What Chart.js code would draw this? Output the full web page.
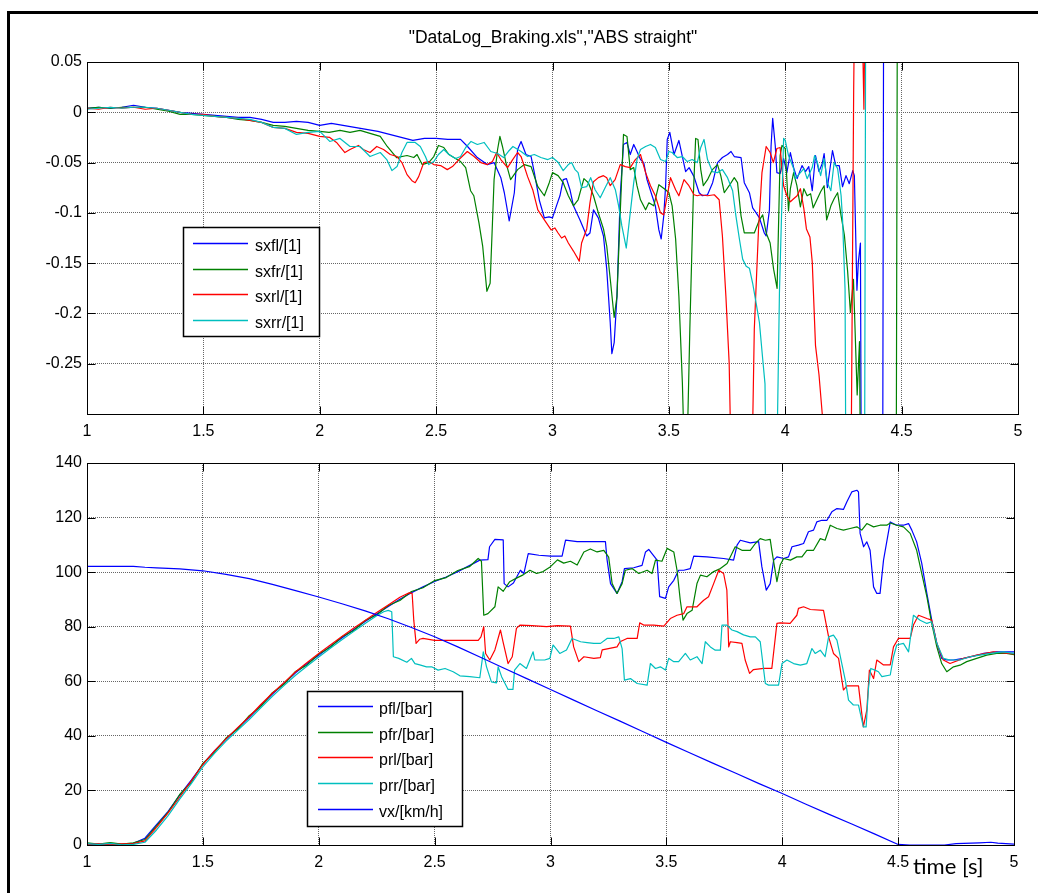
<!DOCTYPE html>
<html><head><meta charset="utf-8">
<script src="https://cdn.jsdelivr.net/npm/chart.js@4"></script>
<style>
html,body{margin:0;padding:0;background:#fff;}
body{width:1038px;height:893px;position:relative;overflow:hidden;}
#frame{position:absolute;left:7px;top:11px;width:1100px;height:1000px;border-left:3px solid #000;border-top:3px solid #000;}
#title{position:absolute;top:27px;left:553px;transform:translateX(-50%);white-space:nowrap;font:17.5px "Liberation Sans",Arial,sans-serif;color:#000;line-height:20px;}
#xlabel{position:absolute;left:913px;top:855px;white-space:nowrap;font:22px Lato,"Open Sans",sans-serif;line-height:22px;color:#000;}
canvas{position:absolute;left:0;}
#c1{top:0;}
#c2{top:440px;}
</style></head>
<body>
<div id="frame"></div>
<canvas id="c1" width="1038" height="440" style="width:1038px;height:440px"></canvas>
<canvas id="c2" width="1038" height="453" style="width:1038px;height:453px"></canvas>
<div id="title">"DataLog_Braking.xls","ABS straight"</div>
<div id="xlabel">time [s]</div>
<script>
// ---------- DATA ----------
const xTicks = [1, 1.5, 2, 2.5, 3, 3.5, 4, 4.5, 5];
const slipTicks = [0.05, 0, -0.05, -0.1, -0.15, -0.2, -0.25];
const pressTicks = [0, 20, 40, 60, 80, 100, 120, 140];
const slipLabels = ["sxfl/[1]", "sxfr/[1]", "sxrl/[1]", "sxrr/[1]"];
const pressLabels = ["pfl/[bar]", "pfr/[bar]", "prl/[bar]", "prr/[bar]", "vx/[km/h]"];

// [time s, slip]
const sxfl = [[1.0,0.004],[1.05,0.005],[1.1,0.004],[1.15,0.005],[1.2,0.007],[1.25,0.005],[1.3,0.004],[1.35,0.002],[1.4,0.0],[1.45,-0.001],[1.5,-0.002],[1.55,-0.003],[1.6,-0.004],[1.65,-0.005],[1.7,-0.005],[1.75,-0.007],[1.8,-0.01],[1.85,-0.01],[1.9,-0.009],[1.95,-0.01],[2.0,-0.013],[2.05,-0.011],[2.1,-0.013],[2.15,-0.015],[2.2,-0.017],[2.25,-0.019],[2.3,-0.022],[2.35,-0.025],[2.4,-0.028],[2.45,-0.026],[2.5,-0.026],[2.55,-0.027],[2.605,-0.027],[2.635,-0.034],[2.677,-0.045],[2.72,-0.052],[2.749,-0.05],[2.778,-0.065],[2.793,-0.08],[2.814,-0.108],[2.836,-0.08],[2.85,-0.037],[2.865,-0.029],[2.886,-0.042],[2.908,-0.044],[2.922,-0.06],[2.944,-0.088],[2.965,-0.105],[2.985,-0.104],[3.0,-0.105],[3.017,-0.093],[3.032,-0.083],[3.046,-0.067],[3.06,-0.066],[3.075,-0.077],[3.09,-0.093],[3.118,-0.107],[3.147,-0.123],[3.161,-0.12],[3.176,-0.097],[3.197,-0.105],[3.219,-0.123],[3.233,-0.156],[3.248,-0.209],[3.255,-0.24],[3.265,-0.229],[3.277,-0.183],[3.291,-0.083],[3.305,-0.032],[3.32,-0.03],[3.334,-0.042],[3.349,-0.032],[3.363,-0.039],[3.378,-0.047],[3.392,-0.05],[3.406,-0.067],[3.428,-0.083],[3.442,-0.093],[3.457,-0.117],[3.467,-0.126],[3.478,-0.103],[3.486,-0.073],[3.493,-0.027],[3.504,-0.02],[3.522,-0.042],[3.543,-0.028],[3.558,-0.044],[3.572,-0.059],[3.587,-0.055],[3.608,-0.064],[3.63,-0.08],[3.644,-0.083],[3.666,-0.082],[3.688,-0.07],[3.709,-0.05],[3.73,-0.045],[3.752,-0.042],[3.767,-0.039],[3.781,-0.044],[3.81,-0.045],[3.824,-0.07],[3.846,-0.08],[3.86,-0.095],[3.875,-0.1],[3.889,-0.105],[3.91,-0.12],[3.918,-0.123],[3.932,-0.097],[3.939,-0.034],[3.946,-0.006],[3.957,-0.033],[3.964,-0.06],[3.978,-0.061],[3.993,-0.046],[4.007,-0.06],[4.022,-0.04],[4.036,-0.055],[4.051,-0.066],[4.072,-0.053],[4.087,-0.059],[4.101,-0.054],[4.116,-0.078],[4.13,-0.043],[4.145,-0.059],[4.159,-0.051],[4.167,-0.041],[4.181,-0.075],[4.203,-0.038],[4.217,-0.053],[4.232,-0.053],[4.246,-0.074],[4.261,-0.063],[4.275,-0.071],[4.29,-0.058],[4.297,-0.063],[4.308,-0.177],[4.314,-0.149],[4.323,-0.13],[4.328,-0.45],[4.418,-0.45],[4.423,0.15],[5.0,0.15]];
const sxfr = [[1.0,0.004],[1.05,0.005],[1.1,0.004],[1.15,0.005],[1.2,0.005],[1.25,0.005],[1.3,0.003],[1.35,0.001],[1.4,-0.002],[1.45,-0.002],[1.5,-0.003],[1.55,-0.004],[1.6,-0.005],[1.65,-0.007],[1.7,-0.008],[1.75,-0.01],[1.8,-0.013],[1.85,-0.014],[1.9,-0.016],[1.95,-0.018],[2.0,-0.019],[2.04,-0.02],[2.087,-0.018],[2.13,-0.02],[2.173,-0.018],[2.216,-0.021],[2.26,-0.024],[2.29,-0.034],[2.33,-0.045],[2.375,-0.043],[2.404,-0.045],[2.418,-0.042],[2.44,-0.052],[2.468,-0.05],[2.49,-0.044],[2.51,-0.033],[2.533,-0.035],[2.555,-0.042],[2.576,-0.045],[2.605,-0.049],[2.627,-0.055],[2.648,-0.078],[2.662,-0.083],[2.684,-0.11],[2.7,-0.133],[2.718,-0.178],[2.732,-0.17],[2.742,-0.11],[2.749,-0.067],[2.764,-0.037],[2.774,-0.024],[2.785,-0.034],[2.8,-0.05],[2.82,-0.067],[2.85,-0.057],[2.879,-0.052],[2.908,-0.054],[2.937,-0.074],[2.965,-0.083],[2.986,-0.07],[3.0,-0.06],[3.024,-0.063],[3.046,-0.07],[3.068,-0.083],[3.09,-0.093],[3.11,-0.087],[3.135,-0.066],[3.154,-0.07],[3.176,-0.083],[3.197,-0.1],[3.219,-0.116],[3.233,-0.133],[3.25,-0.17],[3.265,-0.204],[3.277,-0.183],[3.291,-0.1],[3.305,-0.022],[3.32,-0.024],[3.334,-0.057],[3.349,-0.055],[3.363,-0.073],[3.378,-0.087],[3.4,-0.097],[3.414,-0.09],[3.435,-0.093],[3.457,-0.072],[3.486,-0.077],[3.5,-0.08],[3.514,-0.093],[3.529,-0.126],[3.543,-0.183],[3.558,-0.269],[3.565,-0.33],[3.579,-0.33],[3.59,-0.216],[3.605,-0.083],[3.615,-0.026],[3.625,-0.027],[3.637,-0.057],[3.648,-0.073],[3.666,-0.067],[3.687,-0.057],[3.709,-0.052],[3.723,-0.063],[3.738,-0.08],[3.759,-0.073],[3.781,-0.065],[3.795,-0.07],[3.81,-0.103],[3.824,-0.12],[3.867,-0.12],[3.889,-0.107],[3.903,-0.102],[3.918,-0.12],[3.935,-0.13],[3.95,-0.156],[3.965,-0.175],[3.978,-0.043],[3.986,-0.033],[4.0,-0.036],[4.014,-0.098],[4.022,-0.076],[4.036,-0.06],[4.05,-0.073],[4.065,-0.094],[4.08,-0.076],[4.094,-0.083],[4.109,-0.081],[4.12,-0.095],[4.138,-0.086],[4.152,-0.079],[4.167,-0.073],[4.178,-0.107],[4.196,-0.093],[4.21,-0.086],[4.225,-0.08],[4.24,-0.103],[4.254,-0.122],[4.268,-0.158],[4.28,-0.199],[4.293,-0.166],[4.309,-0.281],[4.319,-0.228],[4.326,-0.45],[4.476,-0.45],[4.482,0.15],[5.0,0.15]];
const sxrl = [[1.0,0.004],[1.05,0.003],[1.1,0.005],[1.15,0.004],[1.2,0.005],[1.25,0.003],[1.3,0.004],[1.35,0.002],[1.4,0.0],[1.45,-0.002],[1.5,-0.002],[1.55,-0.004],[1.6,-0.005],[1.65,-0.006],[1.7,-0.008],[1.75,-0.01],[1.8,-0.015],[1.85,-0.016],[1.9,-0.02],[1.95,-0.021],[2.0,-0.024],[2.043,-0.025],[2.072,-0.03],[2.108,-0.04],[2.13,-0.037],[2.166,-0.033],[2.187,-0.037],[2.216,-0.04],[2.245,-0.034],[2.274,-0.037],[2.303,-0.042],[2.332,-0.044],[2.353,-0.05],[2.375,-0.062],[2.396,-0.068],[2.41,-0.07],[2.425,-0.064],[2.447,-0.05],[2.468,-0.049],[2.49,-0.052],[2.519,-0.053],[2.548,-0.057],[2.57,-0.054],[2.598,-0.047],[2.634,-0.039],[2.663,-0.044],[2.692,-0.05],[2.72,-0.052],[2.742,-0.049],[2.76,-0.04],[2.778,-0.047],[2.807,-0.055],[2.829,-0.047],[2.85,-0.04],[2.865,-0.044],[2.893,-0.064],[2.915,-0.077],[2.937,-0.097],[2.965,-0.107],[2.994,-0.117],[3.01,-0.115],[3.024,-0.12],[3.039,-0.125],[3.053,-0.123],[3.068,-0.13],[3.09,-0.138],[3.115,-0.148],[3.125,-0.13],[3.147,-0.116],[3.161,-0.09],[3.176,-0.069],[3.197,-0.065],[3.219,-0.063],[3.233,-0.065],[3.248,-0.073],[3.269,-0.067],[3.291,-0.052],[3.313,-0.054],[3.334,-0.055],[3.356,-0.047],[3.378,-0.042],[3.4,-0.06],[3.421,-0.073],[3.442,-0.083],[3.464,-0.1],[3.478,-0.102],[3.493,-0.083],[3.507,-0.065],[3.529,-0.077],[3.543,-0.083],[3.565,-0.067],[3.586,-0.073],[3.608,-0.082],[3.622,-0.083],[3.637,-0.082],[3.666,-0.083],[3.695,-0.082],[3.716,-0.087],[3.73,-0.123],[3.745,-0.183],[3.759,-0.249],[3.776,-0.45],[3.85,-0.45],[3.867,-0.216],[3.885,-0.117],[3.9,-0.06],[3.918,-0.034],[3.935,-0.04],[3.949,-0.05],[3.964,-0.036],[3.978,-0.035],[3.993,-0.073],[4.007,-0.083],[4.022,-0.089],[4.036,-0.086],[4.051,-0.083],[4.065,-0.076],[4.08,-0.096],[4.091,-0.116],[4.106,-0.124],[4.116,-0.149],[4.13,-0.232],[4.145,-0.261],[4.159,-0.3],[4.165,-0.45],[4.28,-0.45],[4.294,0.023],[4.3,0.15],[4.326,0.15],[4.338,0.003],[4.345,0.15],[5.0,0.15]];
const sxrr = [[1.0,0.003],[1.05,0.004],[1.1,0.005],[1.15,0.004],[1.2,0.005],[1.25,0.005],[1.3,0.004],[1.35,0.002],[1.4,0.0],[1.45,-0.002],[1.5,-0.003],[1.55,-0.004],[1.6,-0.005],[1.65,-0.006],[1.7,-0.007],[1.75,-0.01],[1.8,-0.015],[1.85,-0.016],[1.9,-0.022],[1.95,-0.02],[2.0,-0.019],[2.043,-0.029],[2.087,-0.026],[2.13,-0.034],[2.173,-0.034],[2.216,-0.044],[2.26,-0.04],[2.288,-0.047],[2.31,-0.058],[2.332,-0.054],[2.353,-0.04],[2.375,-0.03],[2.41,-0.03],[2.432,-0.034],[2.454,-0.044],[2.468,-0.052],[2.49,-0.049],[2.51,-0.042],[2.533,-0.037],[2.555,-0.042],[2.584,-0.046],[2.605,-0.044],[2.627,-0.035],[2.65,-0.029],[2.677,-0.032],[2.706,-0.03],[2.735,-0.039],[2.764,-0.041],[2.79,-0.045],[2.81,-0.039],[2.83,-0.034],[2.865,-0.039],[2.893,-0.044],[2.922,-0.042],[2.95,-0.045],[2.98,-0.047],[3.0,-0.045],[3.025,-0.05],[3.046,-0.058],[3.068,-0.052],[3.082,-0.05],[3.097,-0.057],[3.11,-0.06],[3.125,-0.075],[3.147,-0.074],[3.164,-0.065],[3.183,-0.077],[3.205,-0.085],[3.226,-0.075],[3.248,-0.065],[3.27,-0.077],[3.284,-0.093],[3.298,-0.113],[3.317,-0.135],[3.334,-0.1],[3.349,-0.07],[3.363,-0.047],[3.378,-0.037],[3.4,-0.034],[3.421,-0.032],[3.442,-0.035],[3.464,-0.047],[3.486,-0.049],[3.5,-0.039],[3.514,-0.04],[3.536,-0.045],[3.558,-0.044],[3.579,-0.049],[3.6,-0.047],[3.622,-0.05],[3.637,-0.035],[3.651,-0.027],[3.666,-0.047],[3.687,-0.059],[3.709,-0.06],[3.73,-0.057],[3.752,-0.065],[3.774,-0.078],[3.788,-0.103],[3.803,-0.126],[3.817,-0.146],[3.832,-0.153],[3.846,-0.155],[3.86,-0.17],[3.875,-0.19],[3.889,-0.209],[3.903,-0.245],[3.913,-0.27],[3.922,-0.45],[3.957,-0.45],[3.975,-0.18],[3.993,-0.026],[4.0,-0.028],[4.014,-0.043],[4.036,-0.056],[4.043,-0.066],[4.065,-0.06],[4.08,-0.056],[4.094,-0.066],[4.116,-0.055],[4.126,-0.043],[4.138,-0.05],[4.152,-0.063],[4.167,-0.046],[4.181,-0.07],[4.196,-0.078],[4.21,-0.05],[4.225,-0.056],[4.24,-0.083],[4.246,-0.106],[4.257,-0.176],[4.262,-0.45],[4.34,-0.45],[4.346,0.15],[5.0,0.15]];

// [time s, pressure bar / speed km/h]
const pfl = [[1.0,0.3],[1.05,0.2],[1.1,0.4],[1.15,0.2],[1.2,0.6],[1.25,2.5],[1.3,7.5],[1.35,12.3],[1.4,18.3],[1.45,23.8],[1.5,29.6],[1.55,34.5],[1.6,38.8],[1.65,42.8],[1.7,46.8],[1.75,51.2],[1.8,55.3],[1.85,59.2],[1.9,63.1],[1.95,66.5],[2.0,69.5],[2.05,72.8],[2.1,75.9],[2.15,78.9],[2.2,81.9],[2.25,84.7],[2.3,87.4],[2.35,90.1],[2.4,92.5],[2.45,94.6],[2.5,96.6],[2.55,98.2],[2.6,100.2],[2.65,102.4],[2.695,104.4],[2.73,104.6],[2.737,109.3],[2.76,112],[2.796,111.8],[2.8,95.8],[2.817,94.6],[2.84,96],[2.87,100.7],[2.885,99.5],[2.904,106.8],[2.95,106.2],[3.0,105.9],[3.05,105.9],[3.065,111.7],[3.115,111.2],[3.172,111.2],[3.237,111.2],[3.244,104.6],[3.259,95.8],[3.287,92.2],[3.309,96.5],[3.319,101.3],[3.359,101.6],[3.395,102.5],[3.41,107.4],[3.424,108.3],[3.438,106.8],[3.46,104.4],[3.471,91],[3.496,90.4],[3.51,94.6],[3.532,97],[3.553,100.7],[3.575,100.7],[3.603,101.3],[3.618,105.9],[3.675,105.6],[3.747,105],[3.79,104.4],[3.805,109.9],[3.819,111.7],[3.862,110.7],[3.898,111.2],[3.912,102],[3.931,93.4],[3.948,95.8],[3.963,104.4],[3.977,105.6],[4.006,105],[4.027,105.6],[4.042,109.3],[4.07,109.9],[4.092,110.5],[4.113,114.8],[4.135,115.4],[4.149,118.4],[4.171,119],[4.193,119],[4.214,122.1],[4.236,123.3],[4.264,123],[4.279,125.8],[4.3,129.4],[4.322,130],[4.329,129.4],[4.336,114.2],[4.351,109.3],[4.365,111.1],[4.379,108],[4.394,94.6],[4.408,92.2],[4.422,92.2],[4.437,104.4],[4.466,118.4],[4.494,117.2],[4.523,117.2],[4.545,117.8],[4.559,115.4],[4.58,111.1],[4.602,103.2],[4.624,92.2],[4.645,82.4],[4.667,73.9],[4.688,68.4],[4.71,67.8],[4.738,67.8],[4.782,68.4],[4.825,69.2],[4.868,70.2],[4.925,70.8],[5.0,70.8]];
const pfr = [[1.0,0.8],[1.05,0.3],[1.1,0.9],[1.15,0.3],[1.2,0.8],[1.25,2.0],[1.3,7.0],[1.35,12.0],[1.4,18.5],[1.45,23.0],[1.5,29.9],[1.55,34.0],[1.6,39.2],[1.65,42.5],[1.7,47.4],[1.75,50.8],[1.8,55.8],[1.85,58.9],[1.9,63.6],[1.95,66.0],[2.0,70.0],[2.05,72.5],[2.1,76.3],[2.15,78.5],[2.2,82.3],[2.25,84.3],[2.3,87.8],[2.35,89.6],[2.4,92.9],[2.45,94.3],[2.5,96.9],[2.55,98.0],[2.6,100.6],[2.65,102.0],[2.688,105],[2.702,104],[2.712,84.2],[2.73,84.8],[2.76,87.3],[2.774,94.6],[2.796,93],[2.824,96.5],[2.853,97.8],[2.882,99],[2.911,100.7],[2.94,99.5],[2.968,100.2],[3.0,102],[3.03,104.5],[3.057,103.3],[3.086,104],[3.115,102.6],[3.144,107.4],[3.172,108.5],[3.201,107.4],[3.23,108],[3.251,105.5],[3.266,95.8],[3.287,92.2],[3.309,95.8],[3.323,100.7],[3.352,101.3],[3.381,99.5],[3.417,100.7],[3.438,99.5],[3.453,104.4],[3.481,104],[3.503,108.7],[3.532,107.4],[3.546,100.7],[3.56,89.7],[3.572,82.4],[3.589,84.8],[3.611,86],[3.632,95.8],[3.647,98.9],[3.675,98.3],[3.704,100.2],[3.733,101.3],[3.762,103.2],[3.783,106.8],[3.797,109.3],[3.826,108],[3.862,108],[3.884,110.5],[3.905,112.3],[3.927,111.7],[3.948,112],[3.955,108],[3.977,96.5],[3.991,102.6],[4.006,105],[4.035,104.4],[4.063,105.6],[4.085,105.6],[4.106,108],[4.135,108],[4.164,112.3],[4.185,111.7],[4.207,117.2],[4.236,116],[4.264,115.4],[4.293,116],[4.322,116.6],[4.343,115.4],[4.365,117.8],[4.394,116.6],[4.422,117.2],[4.451,117.2],[4.466,118],[4.494,117.2],[4.523,116.6],[4.552,114.2],[4.58,108],[4.602,99.5],[4.624,91],[4.645,81.2],[4.667,72.6],[4.688,66.5],[4.71,63.5],[4.739,65.3],[4.767,65.9],[4.796,67.2],[4.839,68.4],[4.882,69.6],[4.925,70.2],[4.968,70.2],[5.0,69.8]];
const prl = [[1.0,0.2],[1.05,0.5],[1.1,0.1],[1.15,0.4],[1.2,0.5],[1.25,1.5],[1.3,6.5],[1.35,11.8],[1.4,17.5],[1.45,23.5],[1.5,29.5],[1.55,34.5],[1.6,38.9],[1.65,43],[1.7,47],[1.75,51.5],[1.8,55.6],[1.85,59.5],[1.9,63.5],[1.95,66.9],[2.0,70.2],[2.05,73.3],[2.1,76.4],[2.15,79.4],[2.2,82.3],[2.25,85.2],[2.3,88.0],[2.35,90.8],[2.37,91.6],[2.39,92.4],[2.403,92.2],[2.41,82.4],[2.42,73.9],[2.435,75.4],[2.45,75.7],[2.5,75.0],[2.55,75.0],[2.6,75.0],[2.65,75.0],[2.688,75.0],[2.7,76.3],[2.712,80],[2.72,70.2],[2.738,67.8],[2.76,71.5],[2.784,78.8],[2.795,74.5],[2.817,66.5],[2.835,69],[2.853,79.4],[2.868,80.6],[2.92,80.4],[2.983,80],[3.03,80.4],[3.086,80.2],[3.1,72.6],[3.122,67.2],[3.144,69],[3.187,68.4],[3.215,68.7],[3.223,71.5],[3.25,72.0],[3.287,72.6],[3.3,74.5],[3.33,75.7],[3.374,75.7],[3.385,81.4],[3.402,80.6],[3.445,80.6],[3.489,80.2],[3.517,83],[3.546,84.2],[3.575,84.8],[3.589,87.3],[3.632,87.3],[3.661,89.7],[3.682,91],[3.704,95.8],[3.726,100.7],[3.747,99.5],[3.761,93.4],[3.769,72.6],[3.776,74.5],[3.805,74.2],[3.826,73.9],[3.84,67.8],[3.859,62.9],[3.876,64.3],[3.92,64.7],[3.955,64.7],[3.977,81.2],[3.991,81.4],[4.034,81.2],[4.063,84.2],[4.07,86.7],[4.092,87.3],[4.121,86.3],[4.178,86],[4.2,76.3],[4.221,70.2],[4.243,68.4],[4.264,56.8],[4.279,58.3],[4.329,58.3],[4.35,43.3],[4.365,49.5],[4.376,64.1],[4.394,61],[4.408,67.8],[4.437,66],[4.466,66],[4.48,72.6],[4.501,75.7],[4.552,75.7],[4.566,80.6],[4.588,84.2],[4.624,83],[4.645,82.4],[4.667,73.9],[4.695,67.8],[4.724,66.5],[4.782,68.4],[4.839,69.6],[4.911,70.8],[5.0,70.0]];
const prr = [[1.0,0.5],[1.05,0.2],[1.1,0.6],[1.15,0.1],[1.2,0.2],[1.25,1.0],[1.3,5.5],[1.35,10.8],[1.4,16.8],[1.45,22.5],[1.5,28.6],[1.55,33.6],[1.6,38.1],[1.65,42],[1.7,46],[1.75,50.3],[1.8,54.5],[1.85,58.4],[1.9,62.2],[1.95,65.6],[2.0,68.9],[2.05,72.1],[2.1,75.2],[2.15,78.2],[2.2,81.2],[2.25,84.0],[2.28,85.5],[2.3,86.0],[2.315,85.5],[2.322,69],[2.345,68.4],[2.38,67],[2.4,68.4],[2.415,66.5],[2.436,66],[2.465,65.3],[2.487,65.3],[2.515,64.1],[2.545,64.7],[2.58,63.5],[2.609,62],[2.652,61.7],[2.695,61.3],[2.71,70.8],[2.724,65.3],[2.745,59.8],[2.767,59.4],[2.774,65.3],[2.789,61.7],[2.817,57],[2.838,57],[2.845,64.1],[2.868,66.5],[2.896,64.7],[2.925,70.8],[2.932,67.8],[2.975,67.8],[2.997,68.4],[3.011,73.3],[3.04,70.2],[3.069,71.5],[3.093,75.7],[3.13,74.5],[3.158,74.2],[3.187,73.9],[3.216,73.9],[3.244,75.7],[3.273,75.7],[3.295,76.3],[3.309,72],[3.319,60.4],[3.345,61],[3.374,59.2],[3.417,58.6],[3.431,66.5],[3.453,64.7],[3.474,65.3],[3.496,64.1],[3.51,68.4],[3.532,67.2],[3.553,67.2],[3.582,70.2],[3.603,67.8],[3.632,69],[3.654,66.5],[3.668,74.5],[3.69,72.6],[3.711,71.4],[3.733,71.4],[3.74,80.6],[3.761,80.6],[3.783,78.8],[3.805,78.2],[3.833,77],[3.862,76.3],[3.884,76.3],[3.905,74.5],[3.927,59.2],[3.941,58.6],[3.984,58.6],[3.999,66.5],[4.02,67.8],[4.049,66.5],[4.078,65.9],[4.106,66.5],[4.128,72],[4.142,70.2],[4.164,71.4],[4.185,69],[4.2,76.3],[4.221,76.9],[4.236,75.1],[4.257,66.5],[4.272,60.4],[4.286,53.1],[4.307,51.3],[4.329,51.3],[4.35,43.3],[4.362,43.3],[4.372,57.4],[4.382,64.7],[4.4,64.1],[4.415,63.5],[4.43,61.7],[4.466,62.3],[4.48,69],[4.494,73.3],[4.523,73.9],[4.545,70.8],[4.566,84.2],[4.595,82.4],[4.624,81.2],[4.645,81.8],[4.667,73.9],[4.695,68.4],[4.724,67.8],[4.767,67.8],[4.81,69],[4.853,69.6],[4.897,70.2],[4.954,70.8],[5.0,70.2]];
const vx = [[1.0,102.1],[1.1,102.1],[1.2,102.1],[1.25,101.8],[1.3,101.6],[1.4,101.2],[1.5,100.5],[1.6,99.2],[1.7,97.6],[1.8,95.5],[1.9,93.2],[2.0,90.9],[2.1,88.4],[2.2,85.8],[2.3,82.9],[2.4,79.7],[2.5,76.3],[2.6,72.6],[2.7,68.7],[2.8,64.8],[2.9,60.9],[3.0,57.0],[3.1,53.1],[3.2,49.2],[3.3,45.4],[3.4,41.5],[3.5,37.6],[3.6,33.8],[3.7,30.0],[3.8,26.3],[3.9,22.5],[4.0,18.9],[4.1,15.0],[4.2,11.3],[4.3,7.7],[4.4,4.0],[4.5,0.2],[4.55,0],[4.7,0],[4.75,0.5],[4.85,0.8],[4.9,1.0],[4.93,0.7],[5.0,0.3]];

// ---------- RENDERING ----------
const COLORS = ['#0000ff', '#008000', '#ff0000', '#00bfbf', '#0000ff'];
const FONT = '"Liberation Sans", Arial, sans-serif';
Chart.defaults.font.family = FONT;
Chart.defaults.font.size = 16;
Chart.defaults.color = '#000';

const toXY = arr => arr.map(p => ({x: p[0], y: p[1]}));

const boxPlugin = {
  id: 'matBox',
  afterDatasetsDraw(chart) {
    const {ctx, chartArea: a} = chart;
    const L = Math.round(a.left) + 0.5, R = Math.round(a.right) + 0.5;
    const T = Math.round(a.top) + 0.5, B = Math.round(a.bottom) + 0.5;
    ctx.save();
    ctx.strokeStyle = '#000'; ctx.lineWidth = 1;
    ctx.strokeRect(L, T, R - L, B - T);
    const len = 8;
    ctx.beginPath();
    chart.scales.x.ticks.forEach(t => {
      const px = Math.round(chart.scales.x.getPixelForValue(t.value)) + 0.5;
      ctx.moveTo(px, B); ctx.lineTo(px, B - len);
      ctx.moveTo(px, T); ctx.lineTo(px, T + len);
    });
    chart.scales.y.ticks.forEach(t => {
      const py = Math.round(chart.scales.y.getPixelForValue(t.value)) + 0.5;
      ctx.moveTo(L, py); ctx.lineTo(L + len, py);
      ctx.moveTo(R, py); ctx.lineTo(R - len, py);
    });
    ctx.stroke();
    ctx.restore();
  }
};

const legendPlugin = {
  id: 'boxLegend',
  afterDraw(chart, args, o) {
    const ctx = chart.ctx;
    ctx.save();
    ctx.fillStyle = '#fff';
    ctx.fillRect(o.x, o.y, o.w, o.h);
    ctx.strokeStyle = '#000'; ctx.lineWidth = 1.5;
    ctx.strokeRect(o.x + 0.5, o.y + 0.5, o.w, o.h);
    ctx.font = '16px ' + FONT;
    ctx.textBaseline = 'middle';
    chart.data.datasets.forEach((ds, i) => {
      const y = Math.round(o.row0 + i * o.gap) + 0.5;
      ctx.strokeStyle = ds.borderColor; ctx.lineWidth = 1.3;
      ctx.beginPath(); ctx.moveTo(o.lx0, y); ctx.lineTo(o.lx1, y); ctx.stroke();
      ctx.fillStyle = '#000';
      ctx.fillText(ds.label, o.tx, y + 3);
    });
    ctx.restore();
  }
};

function makeChart(id, series, labels, yMin, yMax, yTicks, pad, xAxisH, legendCfg) {
  const datasets = series.map((s, i) => ({
    label: labels[i],
    data: toXY(s),
    borderColor: COLORS[i],
    backgroundColor: COLORS[i],
    borderWidth: 1.2,
    pointRadius: 0,
    pointHoverRadius: 0,
    tension: 0,
    fill: false,
    borderJoinStyle: 'round',
    order: series.length - i
  }));
  return new Chart(document.getElementById(id), {
    type: 'line',
    data: {datasets},
    options: {
      responsive: false,
      animation: false,
      events: [],
      layout: {padding: pad, autoPadding: false},
      plugins: {legend: {display: false}, tooltip: {enabled: false}, title: {display: false}, boxLegend: legendCfg},
      scales: {
        x: {
          type: 'linear', min: 1, max: 5,
          afterBuildTicks: s => { s.ticks = xTicks.map(v => ({value: v})); },
          afterFit: s => { s.height = xAxisH; },
          ticks: {padding: 8, maxRotation: 0, autoSkip: false, callback: v => String(v)},
          grid: {color: '#666666', lineWidth: 1, drawTicks: false},
          border: {display: false, dash: [1, 1]}
        },
        y: {
          type: 'linear', min: yMin, max: yMax,
          afterBuildTicks: s => { s.ticks = yTicks.map(v => ({value: v})); },
          afterFit: s => { s.width = 87; },
          ticks: {padding: 5, autoSkip: false, callback: v => String(v)},
          grid: {color: '#666666', lineWidth: 1, drawTicks: false},
          border: {display: false, dash: [1, 1]}
        }
      }
    },
    plugins: [boxPlugin, legendPlugin]
  });
}

makeChart('c1', [sxfl, sxfr, sxrl, sxrr], slipLabels, -0.3, 0.05, slipTicks,
  {left: 0, right: 20, top: 62, bottom: 0}, 26,
  {x: 183, y: 227, w: 136, h: 109, lx0: 193, lx1: 248, tx: 255, row0: 243, gap: 25.5});

makeChart('c2', [pfl, pfr, prl, prr, vx], pressLabels, 0, 140, pressTicks,
  {left: 0, right: 24, top: 23, bottom: 0}, 48,
  {x: 307, y: 251, w: 155, h: 135, lx0: 318, lx1: 373, tx: 379, row0: 266, gap: 25.7});
</script>
</body></html>
